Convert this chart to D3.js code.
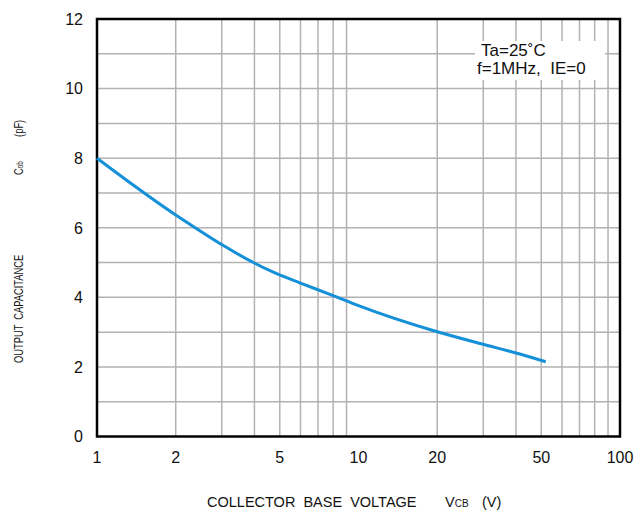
<!DOCTYPE html>
<html>
<head>
<meta charset="utf-8">
<script src="https://cdn.jsdelivr.net/npm/d3@7"></script>
<style>
  body { margin: 0; background: #fff; }
  text { font-family: "Liberation Sans", Arial, sans-serif; fill: #111; }
</style>
</head>
<body>
<div id="chart"></div>
<script>
// data
const vcb = [1, 2, 4.7, 6, 8, 10, 20, 30, 40, 52];
const cob = [8, 6.37, 4.73, 4.41, 4.05, 3.76, 3.01, 2.65, 2.4, 2.15];

const xTicks = [1, 2, 5, 10, 20, 50, 100];
const xGrid = [2, 3, 4, 5, 6, 7, 8, 9, 20, 30, 40, 50, 60, 70, 80, 90];
const yTicks = [0, 2, 4, 6, 8, 10, 12];
const yGrid = [1, 2, 3, 4, 5, 6, 7, 8, 9, 10, 11];

const width = 638, height = 513;
const plotLeft = 97, plotRight = 620, plotTop = 19, plotBottom = 436.5;

const svg = d3.select("#chart").append("svg")
    .attr("width", width)
    .attr("height", height);

const x = d3.scaleLog().domain([1, 100]).range([plotLeft, plotRight]);
const y = d3.scaleLinear().domain([0, 12]).range([plotBottom, plotTop]);

// grid
svg.append("g").selectAll("line")
    .data(xGrid)
    .join("line")
    .attr("x1", d => x(d)).attr("x2", d => x(d))
    .attr("y1", plotTop).attr("y2", plotBottom)
    .attr("stroke", "#b2b2b2")
    .attr("stroke-width", 1.5);

svg.append("g").selectAll("line")
    .data(yGrid)
    .join("line")
    .attr("x1", plotLeft).attr("x2", plotRight)
    .attr("y1", d => y(d)).attr("y2", d => y(d))
    .attr("stroke", "#b2b2b2")
    .attr("stroke-width", 1.5);

// legend box covers the grid
svg.append("rect")
    .attr("x", 475).attr("y", 41)
    .attr("width", 130).attr("height", 39)
    .attr("fill", "#fff");

svg.append("text").attr("x", 481).attr("y", 56).attr("font-size", 17).text("Ta=25˚C");
svg.append("text").attr("x", 477).attr("y", 74).attr("font-size", 17)
    .style("white-space", "pre").text("f=1MHz,  IE=0");

// frame
svg.append("rect")
    .attr("x", plotLeft).attr("y", plotTop)
    .attr("width", plotRight - plotLeft).attr("height", plotBottom - plotTop)
    .attr("fill", "none")
    .attr("stroke", "#000")
    .attr("stroke-width", 2.5);

// curve
const pts = vcb.map((v, i) => [v, cob[i]]);
svg.append("path")
    .datum(pts)
    .attr("fill", "none")
    .attr("stroke", "#1490d8")
    .attr("stroke-width", 3)
    .attr("d", d3.line().x(d => x(d[0])).y(d => y(d[1])).curve(d3.curveMonotoneX));

// tick labels
svg.append("g").selectAll("text")
    .data(xTicks)
    .join("text")
    .attr("x", d => x(d))
    .attr("y", 463)
    .attr("text-anchor", "middle")
    .attr("font-size", 16)
    .text(d => d);

svg.append("g").selectAll("text")
    .data(yTicks)
    .join("text")
    .attr("x", 83)
    .attr("y", d => y(d))
    .attr("dy", "0.36em")
    .attr("text-anchor", "end")
    .attr("font-size", 16)
    .text(d => d);

// axis titles
const xt = svg.append("text")
    .attr("y", 507)
    .attr("font-size", 14.5);
xt.append("tspan").attr("x", 207).text("COLLECTOR  BASE  VOLTAGE").style("white-space", "pre");
xt.append("tspan").attr("x", 445).text("V");
xt.append("tspan").attr("font-size", 10).text("CB");
xt.append("tspan").attr("x", 482).text("(V)");

// y title is condensed along its length, as in the original
const yt = svg.append("text")
    .attr("transform", "translate(23,363) rotate(-90) scale(0.72,1)")
    .attr("font-size", 13);
yt.append("tspan").attr("x", 0).text("OUTPUT");
yt.append("tspan").attr("x", 60).text("CAPACITANCE");
yt.append("tspan").attr("x", 261).text("C");
yt.append("tspan").attr("font-size", 9).text("ob");
yt.append("tspan").attr("x", 314).text("(pF)");
</script>
</body>
</html>
